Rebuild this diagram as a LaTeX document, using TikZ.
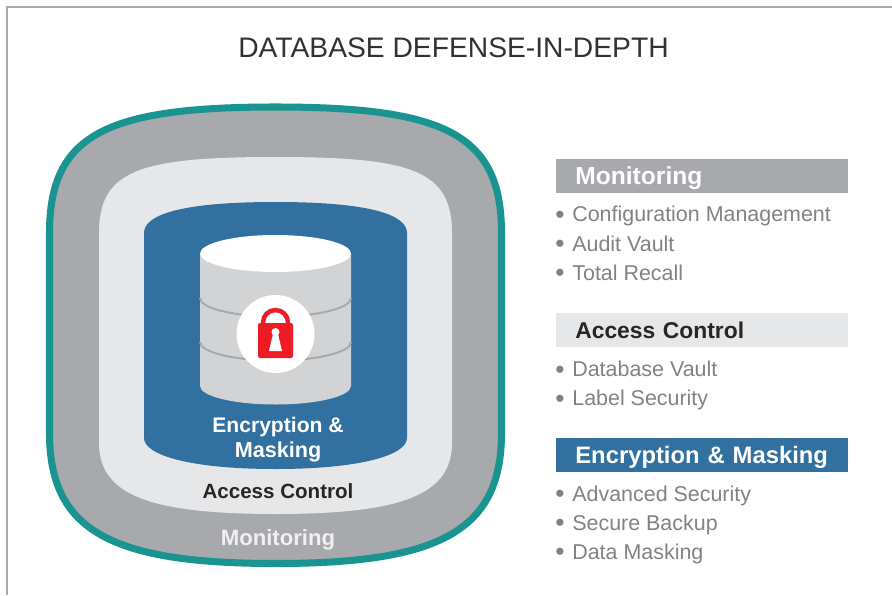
\documentclass[tikz,border=0pt]{standalone}
\usepackage{fontspec}
\setmainfont{Liberation Sans}
\definecolor{ringteal}{RGB}{26,148,144}
\definecolor{ringgray}{RGB}{167,169,172}
\definecolor{ringlight}{RGB}{230,231,232}
\definecolor{ringblue}{RGB}{49,112,159}
\definecolor{cylgray}{RGB}{209,211,212}
\definecolor{lockred}{RGB}{237,28,36}
\definecolor{listgray}{RGB}{128,130,133}
\definecolor{titleblack}{RGB}{50,50,52}
\usetikzlibrary{positioning}
\newcommand{\bul}{\makebox[0.34cm][l]{\raisebox{-1pt}{\fontsize{15}{14}\selectfont •}}}
\tikzset{
    ringlabel/.style={anchor=base, font=\fontsize{#1}{14}\selectfont\bfseries, inner sep=0pt},
    bandbox/.style={anchor=west, minimum width=5.84cm, minimum height=0.68cm, inner xsep=0.38cm, inner ysep=0pt, text width=5.08cm, align=left, font=\fontsize{#1}{15}\selectfont\bfseries, text height=10pt, text depth=0.4pt},
    listitem/.style={anchor=base west, inner sep=0pt, text=listgray, font=\fontsize{12.2}{14}\selectfont}
}

\begin{document}
\begin{tikzpicture}[x=0.02cm, y=-0.02cm]
    \useasboundingbox (0,0) rectangle (892,595);

    % Frame
    \draw[ringgray, line width=1.1pt] (7,595) -- (7,7) -- (892,7);

    % Title
    \node[anchor=base, inner sep=0pt, text=titleblack, font=\fontsize{16.07}{19}\selectfont] (title) at (453.5,57) {DATABASE DEFENSE-IN-DEPTH};

    % Three rings
    \draw[fill=ringgray, draw=ringteal, line width=4pt] (49.5,233) .. controls (49.5,135) and (105,107) .. (275.5,107)
        .. controls (446,107) and (501.5,135) .. (501.5,233) -- (501.5,433)
        .. controls (501.5,530) and (441,563.5) .. (275.5,563.5)
        .. controls (110,563.5) and (49.5,530) .. (49.5,433) -- cycle;
    \fill[ringlight] (99,233) .. controls (99,170) and (140,157) .. (275.5,157)
        .. controls (411,157) and (452,170) .. (452,233) -- (452,443)
        .. controls (452,495) and (401,514) .. (275.5,514)
        .. controls (150,514) and (99,495) .. (99,443) -- cycle;
    \fill[ringblue] (144,233) .. controls (144,215) and (180,202) .. (275.5,202)
        .. controls (371,202) and (407,215) .. (407,233) -- (407,438)
        .. controls (407,455) and (361,469) .. (275.5,469)
        .. controls (190,469) and (144,455) .. (144,438) -- cycle;

    % Database cylinder
    \fill[cylgray] (200,253.5) -- (200,386) arc[start angle=180, end angle=0, x radius=75.5, y radius=18.5] -- (351,253.5) -- cycle;
    \draw[ringgray, line width=1.1pt] (200,298) arc[start angle=180, end angle=0, x radius=75.5, y radius=18.5];
    \draw[ringgray, line width=1.1pt] (200,342) arc[start angle=180, end angle=0, x radius=75.5, y radius=18.5];
    \fill[white] (275.5,253.5) ellipse[x radius=75.5, y radius=18.5];

    % Padlock
    \fill[white] (275.5,334) circle[radius=39];
    \draw[lockred, line width=4.5*0.02cm] (263,325) -- (263,322.5) arc[start angle=180, end angle=360, radius=12.5] -- (288,325);
    \fill[lockred, rounded corners=1.2pt] (258,323) rectangle (293,358);
    \fill[white] (269,351) -- (273,334) -- (278,334) -- (282,351) -- cycle;
    \fill[white] (275.5,332) circle[radius=4];

    % Ring labels
    \node[ringlabel=12, text=white] (encone) at (278,432) {Encryption \&};
    \node[ringlabel=12.3, text=white] (enctwo) at (278,457) {Masking};
    \node[ringlabel=11.7, text=black!85] (acc) at (278,498) {Access Control};
    \node[ringlabel=12.6, text=white!94!black] (mon) at (278,545) {Monitoring};

    % Legend: Monitoring
    \node[bandbox=14, fill=ringgray, text=white] (monband) at (556,176) {Monitoring};
    \node[listitem] (cfg) at (555,221.5) {\bul Configuration Management};
    \node[listitem] (aud) at (555,251) {\bul Audit Vault};
    \node[listitem] (rec) at (555,280) {\bul Total Recall};

    % Legend: Access Control
    \node[bandbox=13, fill=ringlight, text=black!85] (accband) at (556,330) {Access Control};
    \node[listitem] (dbv) at (555,376.5) {\bul Database Vault};
    \node[listitem] (lbl) at (555,405.5) {\bul Label Security};

    % Legend: Encryption & Masking
    \node[bandbox=13.55, fill=ringblue, text=white] (encband) at (556,455) {Encryption \& Masking};
    \node[listitem] (adv) at (555,501) {\bul Advanced Security};
    \node[listitem] (bak) at (555,530) {\bul Secure Backup};
    \node[listitem] (msk) at (555,559) {\bul Data Masking};
\end{tikzpicture}
\end{document}
